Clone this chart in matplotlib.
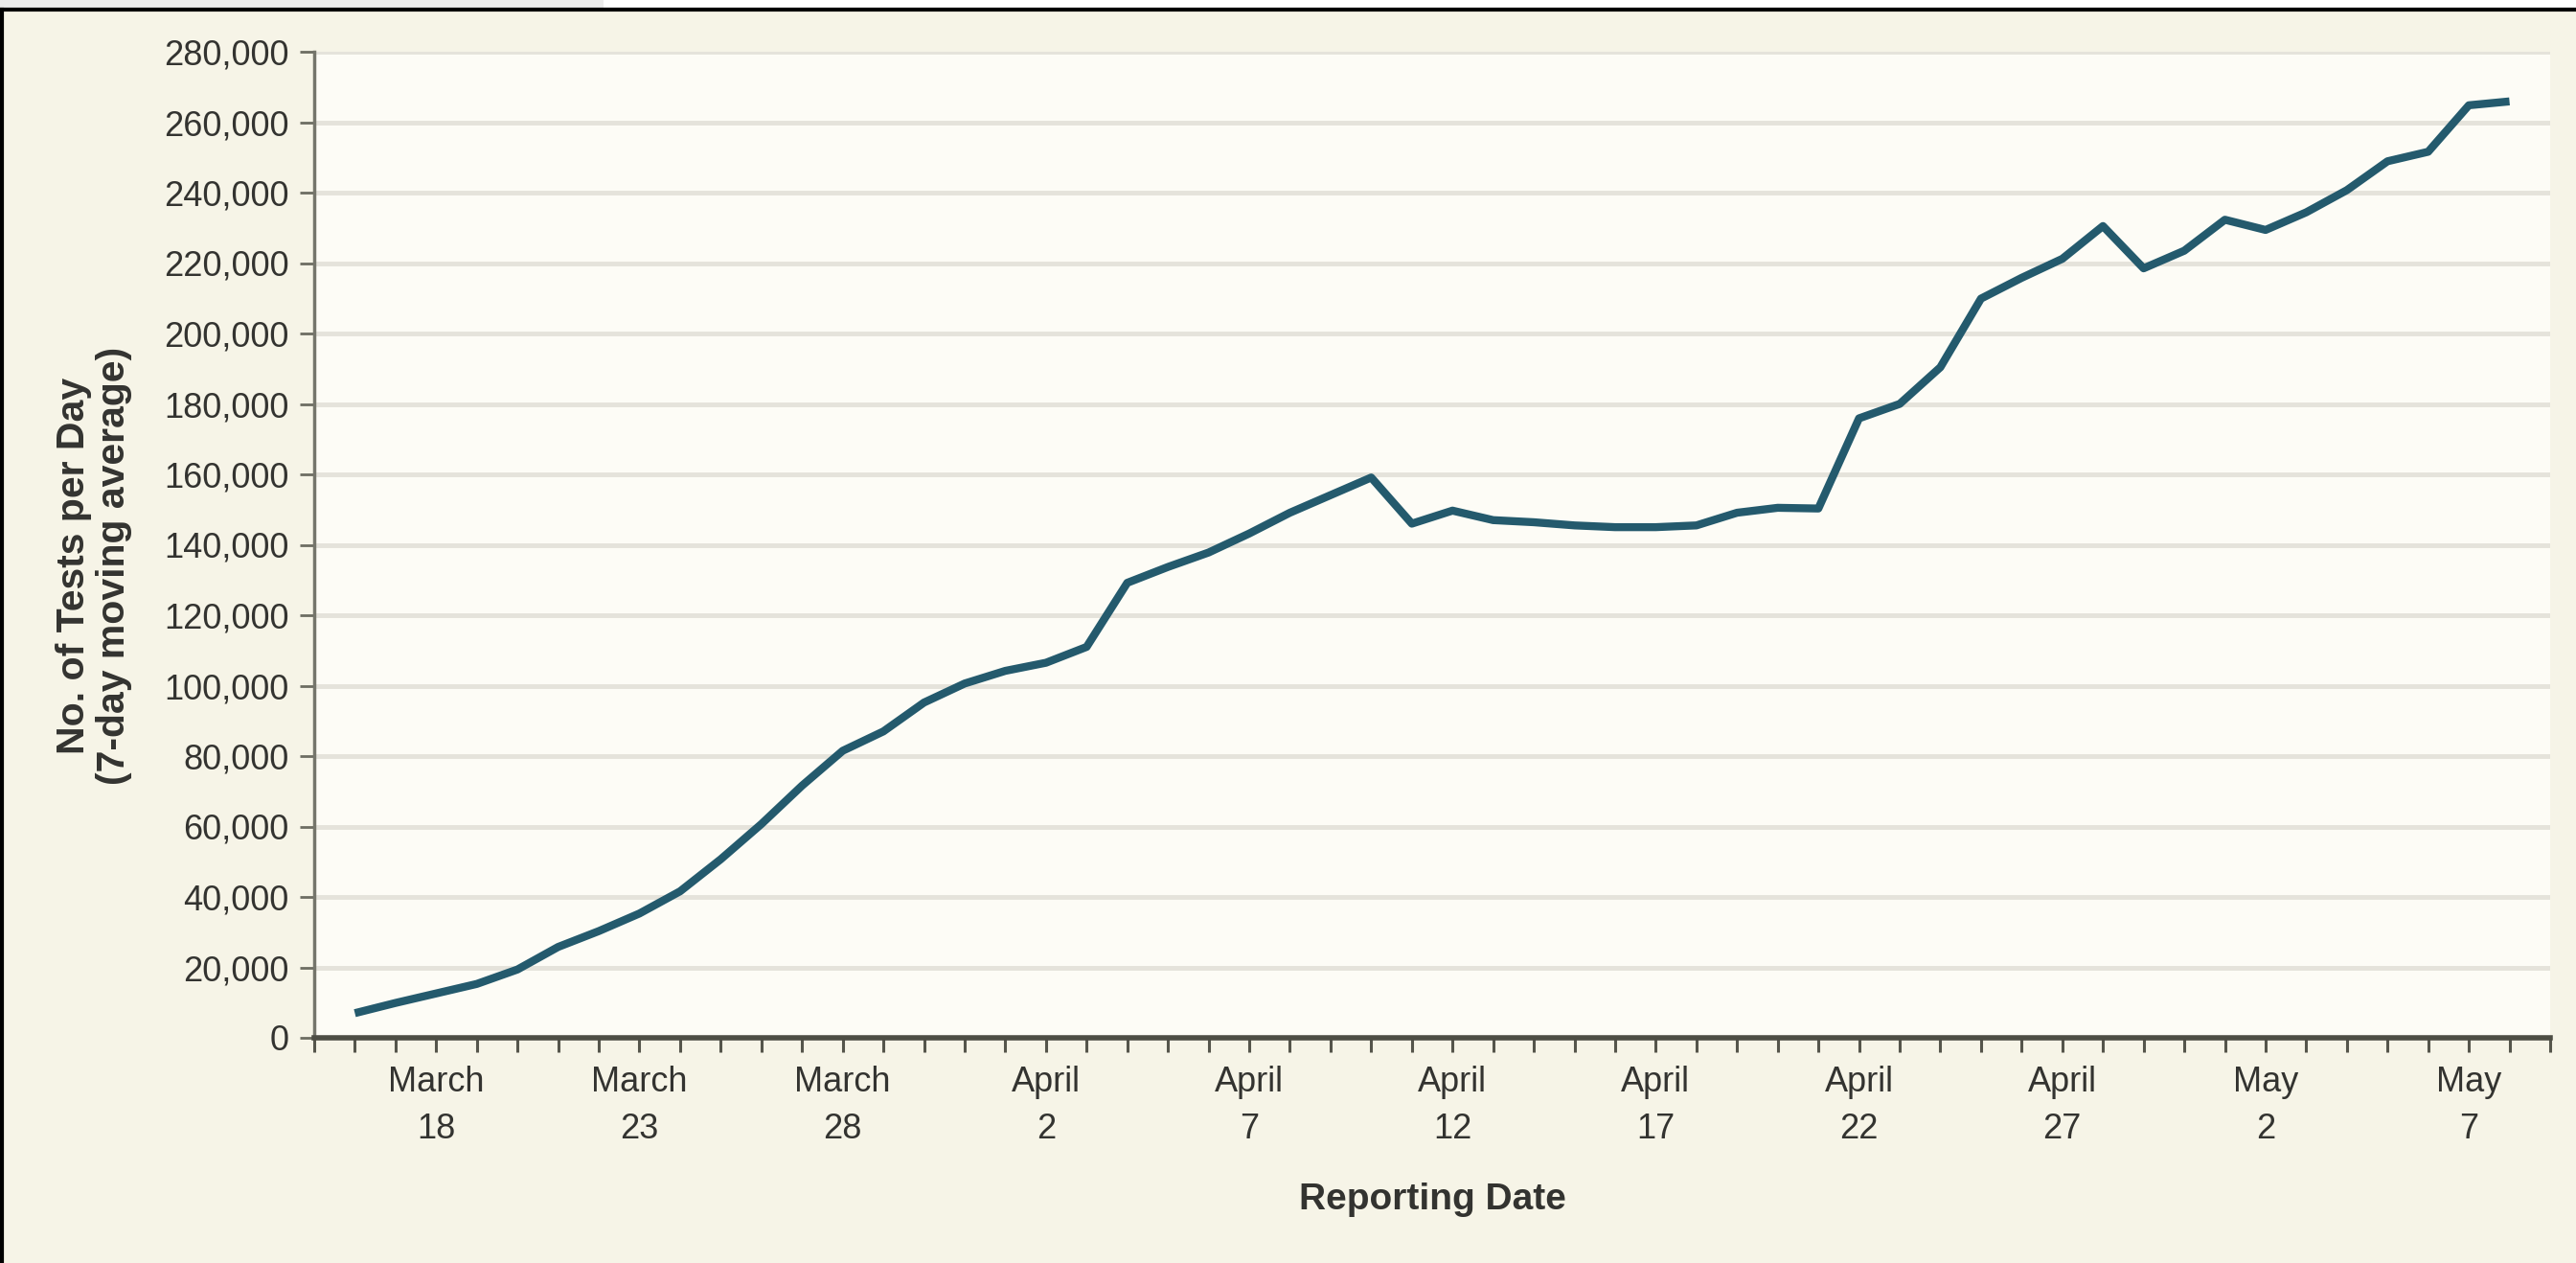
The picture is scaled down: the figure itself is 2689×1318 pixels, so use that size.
import matplotlib

matplotlib.use("Agg")
import matplotlib.pyplot as plt
from matplotlib.lines import Line2D
from matplotlib.patches import Rectangle
import matplotlib.dates as mdates
import pandas as pd


START_DATE = "2020-03-16"
# 7-day moving average of tests per day, one value per reporting date from March 16 to May 8
TESTS_PER_DAY = [
    7000, 9900, 12600, 15300, 19400, 25800, 30300, 35300, 41600, 50700, 60700, 71600,
    81500, 87000, 95200, 100600, 104200, 106500, 111000, 129200, 133700, 137800, 143200, 149100,
    154100, 159100, 146000, 149700, 147000, 146400, 145500, 145000, 145000, 145500, 149100, 150500,
    150300, 175900, 180000, 190400, 209900, 215800, 221200, 230500, 218500, 223500, 232300, 229400,
    234400, 240700, 248900, 251600, 264800, 265900,
]
TICK_DATES = [
    "2020-03-18", "2020-03-23", "2020-03-28", "2020-04-02", "2020-04-07", "2020-04-12",
    "2020-04-17", "2020-04-22", "2020-04-27", "2020-05-02", "2020-05-07",
]
TICK_LABELS = [
    "March\n18", "March\n23", "March\n28", "April\n2", "April\n7", "April\n12",
    "April\n17", "April\n22", "April\n27", "May\n2", "May\n7",
]
Y_TICKS = list(range(0, 280001, 20000))
X_RANGE = ["2020-03-15", "2020-05-09"]

FONT = ["Liberation Sans", "DejaVu Sans"]
BG = "#f6f4e7"
PLOT_BG = "#fdfcf6"
GRID = "#e5e3db"
LINE = "#245a6d"
TEXT = "#333330"


def main() -> None:
    plt.rcParams["font.family"] = FONT
    fig = plt.figure(figsize=(26.89, 13.18), dpi=100, facecolor=BG)

    # screenshot strip and outer frame
    fig.patches.append(Rectangle((0, 1 - 10 / 1318), 630 / 2689, 10 / 1318, transform=fig.transFigure,
                                 facecolor="#ececec", edgecolor="none", zorder=0))
    fig.patches.append(Rectangle((630 / 2689, 1 - 10 / 1318), 1, 10 / 1318, transform=fig.transFigure,
                                 facecolor="#ffffff", edgecolor="none", zorder=0))
    fig.lines.append(Line2D([2 / 2689, 1], [1 - 10 / 1318, 1 - 10 / 1318], transform=fig.transFigure,
                            color="black", linewidth=3))
    fig.lines.append(Line2D([2 / 2689, 2 / 2689], [0, 1 - 10 / 1318], transform=fig.transFigure,
                            color="black", linewidth=3))

    ax = fig.add_axes([328 / 2689, 1 - 1083 / 1318, 2334 / 2689, 1029 / 1318])
    ax.set_facecolor(PLOT_BG)

    dates = pd.date_range(START_DATE, periods=len(TESTS_PER_DAY), freq="D")
    ax.plot(dates, TESTS_PER_DAY, color=LINE, linewidth=6, solid_joinstyle="round",
            solid_capstyle="butt", zorder=3)

    ax.set_xlim(pd.Timestamp(X_RANGE[0]), pd.Timestamp(X_RANGE[1]))
    ax.set_ylim(Y_TICKS[0], Y_TICKS[-1])

    ax.set_yticks(Y_TICKS)
    ax.set_yticklabels([f"{v:,}" for v in Y_TICKS])
    for v in Y_TICKS[1:]:
        ax.axhline(v, color=GRID, linewidth=3.5, zorder=1)

    ax.set_xticks([pd.Timestamp(d) for d in TICK_DATES])
    ax.set_xticklabels(TICK_LABELS, linespacing=1.5)
    ax.xaxis.set_minor_locator(mdates.DayLocator())

    ax.tick_params(axis="y", direction="out", length=11, width=2, color="#6d6d62",
                   labelsize=26, labelcolor=TEXT, pad=8)
    ax.tick_params(axis="x", which="both", direction="out", length=11, width=2.2, color="#55554b",
                   labelsize=26, labelcolor=TEXT, pad=10)

    for side in ("top", "right"):
        ax.spines[side].set_visible(False)
    ax.spines["left"].set_color("#75756b")
    ax.spines["left"].set_linewidth(2.5)
    ax.spines["bottom"].set_color("#4d4d44")
    ax.spines["bottom"].set_linewidth(4)

    fig.text(98 / 2689, 1 - 590 / 1318, "No. of Tests per Day\n(7-day moving average)", rotation=90,
             ha="center", va="center", multialignment="center", fontsize=29.5, fontweight="bold",
             color=TEXT, linespacing=1.1)
    fig.text(1495 / 2689, 1 - 1252 / 1318, "Reporting Date", ha="center", va="center",
             fontsize=28, fontweight="bold", color=TEXT)

    fig.savefig("out.png", dpi=100, facecolor=BG)
    plt.close(fig)


if __name__ == "__main__":
    main()
